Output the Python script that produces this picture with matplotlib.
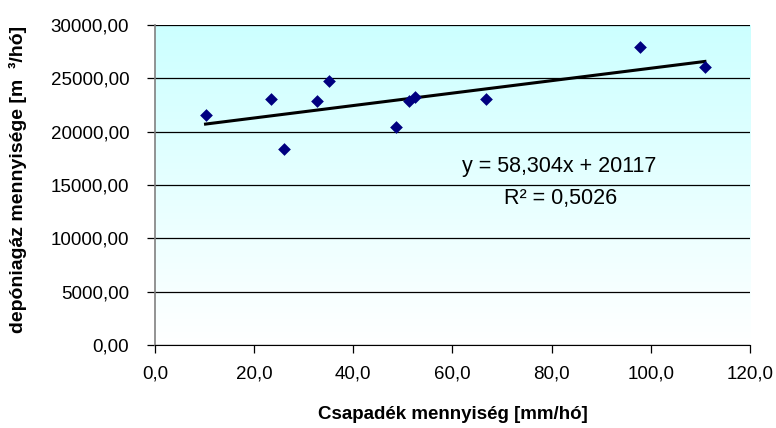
import numpy as np
import matplotlib.pyplot as plt
from matplotlib.colors import LinearSegmentedColormap
from matplotlib.ticker import FuncFormatter, MultipleLocator

plt.rcParams["font.family"] = ["Liberation Sans", "DejaVu Sans"]

# monthly precipitation [mm] vs landfill gas volume [m3]
precip = [10.2, 23.5, 26.1, 32.7, 35.0, 48.6, 51.3, 52.4, 66.7, 97.9, 110.9]
gas = [21560, 23030, 18380, 22880, 24750, 20470, 22880, 23220, 23030, 27970, 26030]

slope = 58.304
intercept = 20117
r_squared = 0.5026


def comma(fmt):
    return FuncFormatter(lambda v, _: format(v, fmt).replace(".", ","))


fig = plt.figure(figsize=(7.76, 4.28), dpi=100)
ax = fig.add_axes([0.1997, 0.1939, 0.7668, 0.7477])

ax.set_xlim(0, 120)
ax.set_ylim(0, 30000)

# plot-area fill: pale cyan at the top fading to white at the bottom
grad = LinearSegmentedColormap.from_list("bg", ["#ffffff", "#ccffff"])
ax.imshow(np.linspace(0, 1, 256).reshape(-1, 1), cmap=grad, aspect="auto",
          extent=(0, 120, 0, 30000), origin="lower", zorder=0)

ax.yaxis.set_major_locator(MultipleLocator(5000))
ax.xaxis.set_major_locator(MultipleLocator(20))
ax.yaxis.set_major_formatter(comma(".2f"))
ax.xaxis.set_major_formatter(comma(".1f"))
ax.grid(axis="y", color="black", linewidth=0.9, zorder=1)

for side in ("top", "right"):
    ax.spines[side].set_visible(False)
ax.spines["left"].set_color("#808080")
ax.spines["left"].set_linewidth(1.2)
ax.spines["bottom"].set_color("black")
ax.tick_params(axis="both", direction="out", length=5.5, width=0.9,
               labelsize=13.5, color="black")
ax.tick_params(axis="y", pad=13)
ax.tick_params(axis="x", pad=9)

ax.scatter(precip, gas, marker="D", s=42, color="#000080", zorder=3,
           linewidths=0)

xs = np.array([min(precip), max(precip)])
ax.plot(xs, slope * xs + intercept, color="black", linewidth=2.2, zorder=2)

ax.text(81.5, 16700, f"y = {slope:.3f}x + {intercept}".replace(".", ","),
        ha="center", va="center", fontsize=15.5)
ax.text(81.7, 13750, f"R² = {r_squared:.4f}".replace(".", ","),
        ha="center", va="center", fontsize=15.5)

ax.set_xlabel("Csapadék mennyiség [mm/hó]", fontsize=13.5,
              fontweight="bold")
ax.set_ylabel("depóniagáz mennyisége [m  ³/hó]", fontsize=14,
              fontweight="bold")
ax.xaxis.set_label_coords(0.5, -0.19)
ax.yaxis.set_label_coords(-0.215, 0.516)

fig.savefig("out.png", dpi=100)
